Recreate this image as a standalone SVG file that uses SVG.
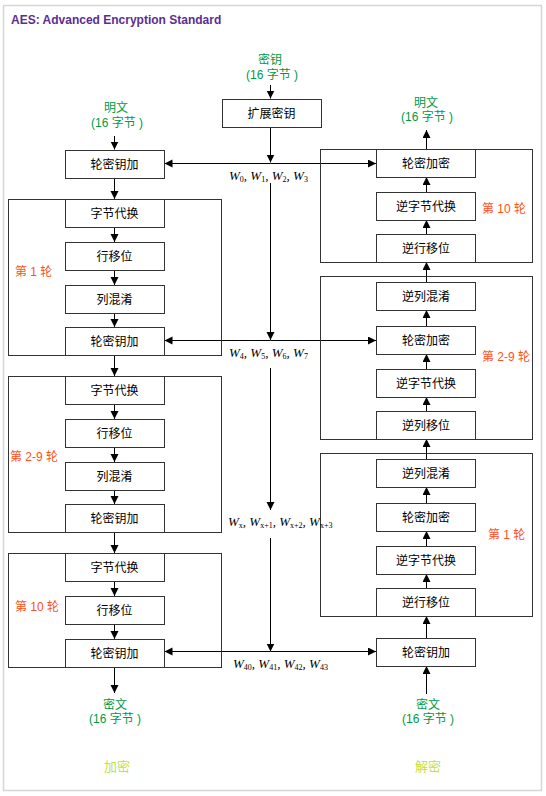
<svg xmlns="http://www.w3.org/2000/svg" width="546" height="796" viewBox="0 0 546 796">
<style>
.bx{fill:#fff;stroke:#333;stroke-width:1}
.rd{fill:none;stroke:#333;stroke-width:1}
.t{font-family:"Liberation Sans","Noto Sans CJK SC",sans-serif;font-size:12px;fill:#000;text-anchor:middle}
.g{font-family:"Liberation Sans","Noto Sans CJK SC",sans-serif;font-size:12px;fill:#009a44;text-anchor:middle}
.o{font-family:"Liberation Sans","Noto Sans CJK SC",sans-serif;font-size:12px;fill:#ff5020}
.y{font-family:"Noto Sans CJK SC",sans-serif;font-size:13px;fill:#c4e040;text-anchor:middle}
.w{font-family:"Liberation Serif",serif;font-size:13px;fill:#000;font-style:italic}
.s{font-size:8px;font-style:normal}
.c{fill:none;stroke:#000;stroke-width:1}
</style>
<defs>
<marker id="ah" markerUnits="userSpaceOnUse" markerWidth="9" markerHeight="9" refX="8" refY="4" orient="auto"><path d="M0,0 L8,4 L0,8 Z" fill="#000"/></marker>
</defs>
<rect x="3.5" y="5.5" width="538" height="785" fill="#fff" stroke="#d6d6d6" stroke-width="1.5"/>
<text x="11" y="24" font-family="'Liberation Sans',sans-serif" font-size="12" font-weight="bold" fill="#5c2d91">AES: Advanced Encryption Standard</text>

<g id="connectors">
<path class="c" marker-end="url(#ah)" d="M114.5,136 V149.5"/>
<path class="c" marker-end="url(#ah)" d="M270.5,85 V98.5"/>
<path class="c" marker-end="url(#ah)" d="M270.5,128 V162.5"/>
<path class="c" marker-end="url(#ah)" d="M270.5,183 V340"/>
<path class="c" marker-end="url(#ah)" d="M270.5,368 V510"/>
<path class="c" marker-end="url(#ah)" d="M270.5,538 V651.5"/>
<path class="c" marker-end="url(#ah)" d="M270.5,163.5 H164.5"/>
<path class="c" marker-end="url(#ah)" d="M270.5,163.5 H376"/>
<path class="c" marker-end="url(#ah)" d="M270.5,340.5 H164.5"/>
<path class="c" marker-end="url(#ah)" d="M270.5,340.5 H376"/>
<path class="c" marker-end="url(#ah)" d="M270.5,651.5 H164.5"/>
<path class="c" marker-end="url(#ah)" d="M270.5,651.5 H376"/>
<path class="c" marker-end="url(#ah)" d="M114.5,178 V199"/>
<path class="c" marker-end="url(#ah)" d="M114.5,227 V242"/>
<path class="c" marker-end="url(#ah)" d="M114.5,270 V285"/>
<path class="c" marker-end="url(#ah)" d="M114.5,313 V327"/>
<path class="c" marker-end="url(#ah)" d="M114.5,355 V376"/>
<path class="c" marker-end="url(#ah)" d="M114.5,404 V419"/>
<path class="c" marker-end="url(#ah)" d="M114.5,447 V462"/>
<path class="c" marker-end="url(#ah)" d="M114.5,490 V504"/>
<path class="c" marker-end="url(#ah)" d="M114.5,532 V553"/>
<path class="c" marker-end="url(#ah)" d="M114.5,581 V596"/>
<path class="c" marker-end="url(#ah)" d="M114.5,624 V639"/>
<path class="c" marker-end="url(#ah)" d="M114.5,667 V693"/>
<path class="c" marker-end="url(#ah)" d="M426.5,694 V666"/>
<path class="c" marker-end="url(#ah)" d="M426.5,638 V616"/>
<path class="c" marker-end="url(#ah)" d="M426.5,588 V574"/>
<path class="c" marker-end="url(#ah)" d="M426.5,546 V531"/>
<path class="c" marker-end="url(#ah)" d="M426.5,503 V487"/>
<path class="c" marker-end="url(#ah)" d="M426.5,459 V439"/>
<path class="c" marker-end="url(#ah)" d="M426.5,411 V397"/>
<path class="c" marker-end="url(#ah)" d="M426.5,369 V354"/>
<path class="c" marker-end="url(#ah)" d="M426.5,326 V310"/>
<path class="c" marker-end="url(#ah)" d="M426.5,282 V262"/>
<path class="c" marker-end="url(#ah)" d="M426.5,234 V220"/>
<path class="c" marker-end="url(#ah)" d="M426.5,192 V177"/>
<path class="c" marker-end="url(#ah)" d="M426.5,149 V130"/>
</g>

<g id="round-enc-1"><rect class="rd" x="8.5" y="199.5" width="213" height="156"/><text class="o" x="15" y="276">第 1 轮</text></g>
<g id="round-enc-2-9"><rect class="rd" x="8.5" y="376.5" width="213" height="156"/><text class="o" x="10" y="461">第 2-9 轮</text></g>
<g id="round-enc-10"><rect class="rd" x="8.5" y="553.5" width="213" height="114"/><text class="o" x="15" y="611">第 10 轮</text></g>
<g id="round-dec-10"><rect class="rd" x="320.5" y="149.5" width="212" height="113"/><text class="o" x="482" y="213">第 10 轮</text></g>
<g id="round-dec-2-9"><rect class="rd" x="320.5" y="276.5" width="212" height="163"/><text class="o" x="482" y="361">第 2-9 轮</text></g>
<g id="round-dec-1"><rect class="rd" x="320.5" y="453.5" width="212" height="163"/><text class="o" x="488" y="539">第 1 轮</text></g>

<g id="plain-in"><text class="g" x="116" y="112">明文</text><text class="g" x="117" y="127">(16 字节 )</text></g>
<g id="key-in"><text class="g" x="270" y="64">密钥</text><text class="g" x="272" y="79">(16 字节 )</text></g>
<g id="key-expand"><rect class="bx" x="222.5" y="99.5" width="99" height="28"/><text class="t" x="271.5" y="118">扩展密钥</text></g>

<g id="e0"><rect class="bx" x="65.5" y="150.5" width="99" height="28"/><text class="t" x="114.5" y="169">轮密钥加</text></g>
<g id="e1a"><rect class="bx" x="65.5" y="199.5" width="99" height="28"/><text class="t" x="114.5" y="218">字节代换</text></g>
<g id="e1b"><rect class="bx" x="65.5" y="242.5" width="99" height="28"/><text class="t" x="114.5" y="261">行移位</text></g>
<g id="e1c"><rect class="bx" x="65.5" y="285.5" width="99" height="28"/><text class="t" x="114.5" y="304">列混淆</text></g>
<g id="e1d"><rect class="bx" x="65.5" y="327.5" width="99" height="28"/><text class="t" x="114.5" y="346">轮密钥加</text></g>
<g id="e2a"><rect class="bx" x="65.5" y="376.5" width="99" height="28"/><text class="t" x="114.5" y="395">字节代换</text></g>
<g id="e2b"><rect class="bx" x="65.5" y="419.5" width="99" height="28"/><text class="t" x="114.5" y="438">行移位</text></g>
<g id="e2c"><rect class="bx" x="65.5" y="462.5" width="99" height="28"/><text class="t" x="114.5" y="481">列混淆</text></g>
<g id="e2d"><rect class="bx" x="65.5" y="504.5" width="99" height="28"/><text class="t" x="114.5" y="523">轮密钥加</text></g>
<g id="e3a"><rect class="bx" x="65.5" y="553.5" width="99" height="28"/><text class="t" x="114.5" y="572">字节代换</text></g>
<g id="e3b"><rect class="bx" x="65.5" y="596.5" width="99" height="28"/><text class="t" x="114.5" y="615">行移位</text></g>
<g id="e3c"><rect class="bx" x="65.5" y="639.5" width="99" height="28"/><text class="t" x="114.5" y="658">轮密钥加</text></g>
<g id="cipher-out"><text class="g" x="115" y="709">密文</text><text class="g" x="115" y="723">(16 字节 )</text></g>

<g id="plain-out"><text class="g" x="426" y="107">明文</text><text class="g" x="427" y="121">(16 字节 )</text></g>
<g id="d10a"><rect class="bx" x="376.5" y="149.5" width="99" height="28"/><text class="t" x="426" y="168">轮密加密</text></g>
<g id="d10b"><rect class="bx" x="376.5" y="192.5" width="99" height="28"/><text class="t" x="426" y="211">逆字节代换</text></g>
<g id="d10c"><rect class="bx" x="376.5" y="234.5" width="99" height="28"/><text class="t" x="426" y="253">逆行移位</text></g>
<g id="d2a"><rect class="bx" x="376.5" y="282.5" width="99" height="28"/><text class="t" x="426" y="301">逆列混淆</text></g>
<g id="d2b"><rect class="bx" x="376.5" y="326.5" width="99" height="28"/><text class="t" x="426" y="345">轮密加密</text></g>
<g id="d2c"><rect class="bx" x="376.5" y="369.5" width="99" height="28"/><text class="t" x="426" y="388">逆字节代换</text></g>
<g id="d2d"><rect class="bx" x="376.5" y="411.5" width="99" height="28"/><text class="t" x="426" y="430">逆列移位</text></g>
<g id="d1a"><rect class="bx" x="376.5" y="459.5" width="99" height="28"/><text class="t" x="426" y="478">逆列混淆</text></g>
<g id="d1b"><rect class="bx" x="376.5" y="503.5" width="99" height="28"/><text class="t" x="426" y="522">轮密加密</text></g>
<g id="d1c"><rect class="bx" x="376.5" y="546.5" width="99" height="28"/><text class="t" x="426" y="565">逆字节代换</text></g>
<g id="d1d"><rect class="bx" x="376.5" y="588.5" width="99" height="28"/><text class="t" x="426" y="607">逆行移位</text></g>
<g id="d0"><rect class="bx" x="376.5" y="638.5" width="99" height="28"/><text class="t" x="426" y="657">轮密钥加</text></g>
<g id="cipher-in"><text class="g" x="428" y="709">密文</text><text class="g" x="428" y="723">(16 字节 )</text></g>

<g id="w0"><text class="w" x="229" y="180">W<tspan class="s" dy="2">0</tspan><tspan dy="-2">, W</tspan><tspan class="s" dy="2">1</tspan><tspan dy="-2">, W</tspan><tspan class="s" dy="2">2</tspan><tspan dy="-2">, W</tspan><tspan class="s" dy="2">3</tspan></text></g>
<g id="w4"><text class="w" x="229" y="357">W<tspan class="s" dy="2">4</tspan><tspan dy="-2">, W</tspan><tspan class="s" dy="2">5</tspan><tspan dy="-2">, W</tspan><tspan class="s" dy="2">6</tspan><tspan dy="-2">, W</tspan><tspan class="s" dy="2">7</tspan></text></g>
<g id="wx"><text class="w" x="228" y="526">W<tspan class="s" dy="2">x</tspan><tspan dy="-2">, W</tspan><tspan class="s" dy="2">x+1</tspan><tspan dy="-2">, W</tspan><tspan class="s" dy="2">x+2</tspan><tspan dy="-2">, W</tspan><tspan class="s" dy="2">x+3</tspan></text></g>
<g id="w40"><text class="w" x="233" y="668">W<tspan class="s" dy="2">40</tspan><tspan dy="-2">, W</tspan><tspan class="s" dy="2">41</tspan><tspan dy="-2">, W</tspan><tspan class="s" dy="2">42</tspan><tspan dy="-2">, W</tspan><tspan class="s" dy="2">43</tspan></text></g>

<g id="enc-label"><text class="y" x="117" y="771">加密</text></g>
<g id="dec-label"><text class="y" x="428" y="771">解密</text></g>
</svg>
